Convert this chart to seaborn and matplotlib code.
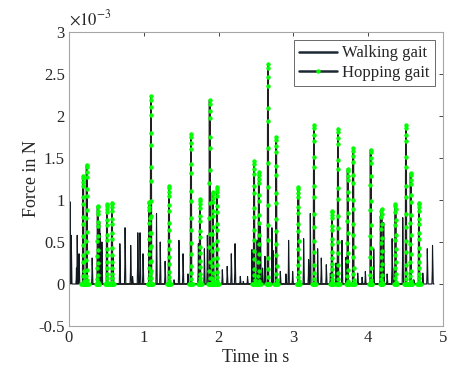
import numpy as np
import pandas as pd
import matplotlib
matplotlib.use("Agg")
import matplotlib.pyplot as plt
from matplotlib.ticker import FuncFormatter
import seaborn as sns

# walking gait: spike times (s) and peak forces (x 1e-3 N)
walk_t = [0.013, 0.03, 0.10, 0.11, 0.135, 0.31, 0.41, 0.42, 0.44, 0.59, 0.68, 0.75,
          0.825, 0.85, 0.92, 0.95, 0.99, 1.17, 1.22, 1.285, 1.405, 1.47, 1.525, 1.59,
          1.73, 1.81, 1.85, 1.93, 1.98, 2.05, 2.115, 2.17, 2.22, 2.29, 2.33, 2.387,
          2.446, 2.515, 2.56, 2.588, 2.62, 2.713, 2.727, 2.825, 2.90, 2.936, 2.99,
          3.137, 3.203, 3.226, 3.324, 3.373, 3.44, 3.494, 3.57, 3.65, 3.704, 3.86,
          3.918, 3.962, 4.074, 4.163, 4.207, 4.253, 4.32, 4.35, 4.462, 4.61, 4.73,
          4.79, 4.86]
walk_peak = [0.98, 0.58, 0.19, 0.58, 0.36, 0.31, 0.74, 0.60, 0.50, 0.33, 0.48, 0.67,
             0.46, 0.09, 0.61, 0.61, 0.36, 0.84, 0.50, 0.27, 0.05, 0.52, 0.36, 0.12,
             0.48, 0.42, 0.58, 0.75, 0.80, 0.17, 0.21, 0.36, 0.48, 0.09, 0.03, 0.09,
             0.41, 0.52, 0.69, 0.19, 0.33, 0.67, 0.40, 0.15, 0.12, 0.52, 0.15,
             0.54, 0.29, 0.84, 0.42, 0.31, 0.23, 0.13, 0.25, 0.52, 0.32, 0.13,
             0.08, 0.15, 0.42, 0.81, 0.73, 0.12, 0.54, 0.19, 0.79, 0.05, 0.13,
             0.42, 0.46]
walk_end = 4.88

# hopping gait: spike times (s) and peak forces (x 1e-3 N)
hop_t = [0.19, 0.237, 0.384, 0.508, 0.575, 1.075, 1.096, 1.337, 1.631, 1.751, 1.881,
         1.921, 1.979, 2.475, 2.538, 2.66, 2.77, 3.066, 3.275, 3.516, 3.596, 3.726,
         3.80, 4.033, 4.178, 4.365, 4.505, 4.568, 4.679]
hop_peak = [1.29, 1.42, 0.93, 0.95, 0.97, 0.98, 2.24, 1.17, 1.79, 1.01, 2.19,
            1.09, 1.16, 1.46, 1.33, 2.62, 1.75, 1.15, 1.89, 0.87, 1.85, 1.37,
            1.62, 1.60, 0.89, 0.95, 1.89, 1.32, 0.97]

walk_shape = [0, 0.35, 1.0, 0.55, 0]
walk_offs = [-0.008, -0.003, 0.0, 0.004, 0.010]
hop_shape = [0, 0.07, 0.2, 0.36, 0.55, 0.74, 0.9, 0.98, 1.0,
             0.94, 0.8, 0.62, 0.44, 0.27, 0.12, 0.03, 0]
hop_base = [0.012, 0.024]

# build walking series
wx, wy = [0.0], [0.0]
for t, p in sorted(zip(walk_t, walk_peak)):
    for o, s in zip(walk_offs, walk_shape):
        wx.append(t + o)
        wy.append(p * s)
wx.append(walk_end)
wy.append(0.0)
walk = pd.DataFrame({"t": wx, "f": np.array(wy) * 1e-3})

# build hopping series
hx, hy = [], []
offs = np.linspace(-0.006, 0.006, len(hop_shape))
for t, p in zip(hop_t, hop_peak):
    for b in hop_base[::-1]:
        hx.append(t - b)
        hy.append(0.0)
    for o, s in zip(offs, hop_shape):
        hx.append(t + o)
        hy.append(p * s)
    for b in hop_base:
        hx.append(t + b)
        hy.append(0.0)
hop = pd.DataFrame({"t": hx, "f": np.array(hy) * 1e-3})

sns.set_style("white")
plt.rcParams["font.family"] = ["Liberation Serif", "DejaVu Serif"]
plt.rcParams["mathtext.fontset"] = "stix"
plt.rcParams["axes.unicode_minus"] = False

fig = plt.figure(figsize=(4.55, 3.71), dpi=100)
ax = fig.add_axes([0.1516, 0.1213, 0.822, 0.7924])

sns.lineplot(data=walk, x="t", y="f", ax=ax, estimator=None, sort=False,
             color="#101820", linewidth=0.8, label="Walking gait")
sns.lineplot(data=hop, x="t", y="f", ax=ax, estimator=None, sort=False,
             color="#202020", linewidth=1.3, marker="o", markersize=2.4,
             markerfacecolor="#00ff00", markeredgecolor="#00ff00",
             label="Hopping gait")

ax.set_xlim(0, 5)
ax.set_ylim(-0.5e-3, 3e-3)
ax.set_xticks([0, 1, 2, 3, 4, 5])
ax.set_yticks(np.arange(-0.5, 3.01, 0.5) * 1e-3)
ax.yaxis.set_major_formatter(FuncFormatter(lambda v, _: f"{v * 1e3:g}"))
ax.xaxis.set_major_formatter(FuncFormatter(lambda v, _: f"{v:g}"))
ax.tick_params(direction="in", length=3, width=0.6, colors="#262626",
               labelsize=12, top=True, right=True, pad=3)
for sp in ax.spines.values():
    sp.set_color("#a6a6a6")
    sp.set_linewidth(0.8)
ax.set_xlabel("Time in s", fontsize=13, color="#262626", labelpad=2)
ax.set_ylabel("Force in N", fontsize=13, color="#262626", labelpad=-1)
ax.text(0.0, 1.01, r"$\times10^{-3}$", transform=ax.transAxes, fontsize=12,
        color="#262626", ha="left", va="bottom")

leg = ax.legend(loc="upper right", fontsize=12, frameon=True, fancybox=False,
                edgecolor="#262626", borderpad=0.3, handlelength=2.3,
                handletextpad=0.3, labelspacing=0.2, borderaxespad=0.5)
leg.get_frame().set_linewidth(0.6)
for h in leg.get_lines():
    h.set_linewidth(1.8)
    h.set_color("#1c2833")

fig.savefig("out.png", dpi=100)
